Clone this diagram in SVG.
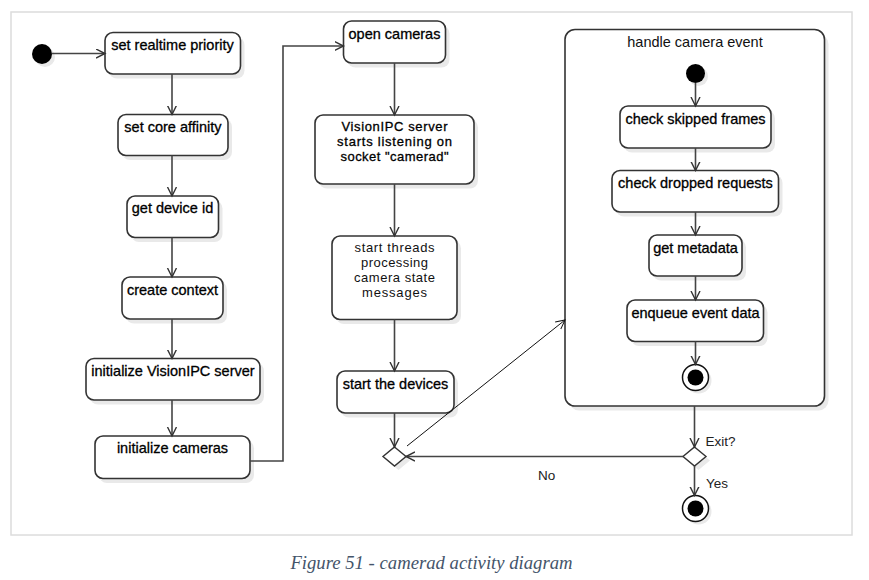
<svg xmlns="http://www.w3.org/2000/svg" width="869" height="580" viewBox="0 0 869 580">
<defs>
<marker id="arr" markerUnits="userSpaceOnUse" markerWidth="12" markerHeight="12" refX="9" refY="5" orient="auto">
<path d="M0,0.5 L9,5 L0,9.5" fill="none" stroke="#333" stroke-width="1.4"/>
</marker>
<marker id="arrt" markerUnits="userSpaceOnUse" markerWidth="12" markerHeight="12" refX="9" refY="5" orient="auto">
<path d="M0,0.5 L9,5 L0,9.5" fill="none" stroke="#111" stroke-width="1"/>
</marker>
</defs>
<style>
.box{fill:#fff;stroke:#333;stroke-width:1.6}
.sh{fill:#e9e9e9;stroke:none}
.t{font-family:"Liberation Sans",Arial,sans-serif;font-size:14.5px;fill:#000;text-anchor:middle;stroke:#000;stroke-width:0.3}
.tm{font-family:"Liberation Sans",Arial,sans-serif;font-size:13px;fill:#000;text-anchor:middle;stroke:#000;stroke-width:0.3}
.tml{font-family:"Liberation Sans",Arial,sans-serif;font-size:13px;fill:#111;text-anchor:middle}
.tl{font-family:"Liberation Sans",Arial,sans-serif;font-size:14.5px;fill:#111;text-anchor:middle}
.lbl{font-family:"Liberation Sans",Arial,sans-serif;font-size:13.5px;fill:#222}
.c{fill:none;stroke:#444;stroke-width:1.6}
.ct{fill:none;stroke:#111;stroke-width:1}
.cap{font-family:"Liberation Serif","Times New Roman",serif;font-style:italic;font-size:18.7px;fill:#44546A;text-anchor:middle}
</style>
<rect x="0" y="0" width="869" height="580" fill="#fff"/>
<rect x="11" y="12" width="841" height="523" fill="#fff" stroke="#dcdcdc" stroke-width="1.5"/>

<g id="start">
<circle cx="45" cy="57" r="10" class="sh"/>
<circle cx="42" cy="54" r="10" fill="#000"/>
</g>

<g id="set-realtime-priority">
<rect x="109" y="37" width="135.5" height="41.5" rx="8" class="sh"/>
<rect x="105" y="32.5" width="135.5" height="41.5" rx="8" class="box"/>
<text x="172.5" y="50" class="t">set realtime priority</text>
</g>
<g id="set-core-affinity">
<rect x="122" y="119" width="110" height="41" rx="8" class="sh"/>
<rect x="118" y="114.5" width="110" height="41" rx="8" class="box"/>
<text x="173" y="132" class="t">set core affinity</text>
</g>
<g id="get-device-id">
<rect x="131" y="200.5" width="91.5" height="41.5" rx="8" class="sh"/>
<rect x="127" y="196" width="91.5" height="41.5" rx="8" class="box"/>
<text x="172.5" y="213" class="t">get device id</text>
</g>
<g id="create-context">
<rect x="126" y="281.5" width="101" height="42" rx="8" class="sh"/>
<rect x="122" y="277" width="101" height="42" rx="8" class="box"/>
<text x="172.5" y="295" class="t">create context</text>
</g>
<g id="init-visionipc">
<rect x="90" y="363" width="174" height="41.5" rx="8" class="sh"/>
<rect x="86" y="358.5" width="174" height="41.5" rx="8" class="box"/>
<text x="173" y="376" class="t">initialize VisionIPC server</text>
</g>
<g id="init-cameras">
<rect x="99" y="440.5" width="155" height="42.5" rx="8" class="sh"/>
<rect x="95" y="436" width="155" height="42.5" rx="8" class="box"/>
<text x="172.5" y="453" class="t">initialize cameras</text>
</g>

<g id="open-cameras">
<rect x="347.5" y="25.5" width="102" height="42" rx="8" class="sh"/>
<rect x="343.5" y="21" width="102" height="42" rx="8" class="box"/>
<text x="394.5" y="38.5" class="t">open cameras</text>
</g>
<g id="visionipc-listening">
<rect x="319" y="119.5" width="159" height="69" rx="8" class="sh"/>
<rect x="315" y="115" width="159" height="69" rx="8" class="box"/>
<text x="394.5" y="131" class="tm" textLength="106" lengthAdjust="spacing">VisionIPC server</text>
<text x="394.5" y="146" class="tm" textLength="115" lengthAdjust="spacing">starts listening on</text>
<text x="394.5" y="161" class="tm" textLength="108" lengthAdjust="spacing">socket "camerad"</text>
</g>
<g id="start-threads">
<rect x="336" y="240.5" width="125" height="83.5" rx="8" class="sh"/>
<rect x="332" y="236" width="125" height="83.5" rx="8" class="box"/>
<text x="394.5" y="251.5" class="tml" textLength="80" lengthAdjust="spacing">start threads</text>
<text x="394.5" y="266.5" class="tml" textLength="67" lengthAdjust="spacing">processing</text>
<text x="394.5" y="281.5" class="tml" textLength="81" lengthAdjust="spacing">camera state</text>
<text x="394.5" y="296.5" class="tml" textLength="65" lengthAdjust="spacing">messages</text>
</g>
<g id="start-devices">
<rect x="341" y="375.5" width="117" height="42" rx="8" class="sh"/>
<rect x="337" y="371" width="117" height="42" rx="8" class="box"/>
<text x="395.5" y="388.5" class="t">start the devices</text>
</g>
<g id="merge">
<polygon points="398.5,451 410,460.5 398.5,470 387,460.5" class="sh"/>
<polygon points="394.5,447 406,456.5 394.5,466 383,456.5" fill="#fff" stroke="#333" stroke-width="1.4"/>
</g>

<g id="handle-camera-event">
<rect x="569" y="34" width="259.5" height="376.5" rx="10" class="sh"/>
<rect x="565" y="29.5" width="259.5" height="376.5" rx="10" class="box"/>
<text x="695" y="47" class="tl">handle camera event</text>
<g id="inner-start">
<circle cx="698.5" cy="76.5" r="9.5" class="sh"/>
<circle cx="695.5" cy="73.5" r="9.5" fill="#000"/>
</g>
<g id="check-skipped">
<rect x="624" y="110.5" width="151" height="42" rx="8" class="sh"/>
<rect x="620" y="106" width="151" height="42" rx="8" class="box"/>
<text x="695.5" y="123.5" class="t">check skipped frames</text>
</g>
<g id="check-dropped">
<rect x="616" y="175" width="166.5" height="41.5" rx="8" class="sh"/>
<rect x="612" y="170.5" width="166.5" height="41.5" rx="8" class="box"/>
<text x="695.5" y="188" class="t">check dropped requests</text>
</g>
<g id="get-metadata">
<rect x="653" y="239.5" width="93" height="41" rx="8" class="sh"/>
<rect x="649" y="235" width="93" height="41" rx="8" class="box"/>
<text x="695.5" y="253" class="t">get metadata</text>
</g>
<g id="enqueue">
<rect x="631" y="304.5" width="136.5" height="41.5" rx="8" class="sh"/>
<rect x="627" y="300" width="136.5" height="41.5" rx="8" class="box"/>
<text x="695.5" y="317.5" class="t">enqueue event data</text>
</g>
<g id="inner-end">
<circle cx="698.5" cy="380.5" r="13" class="sh"/>
<circle cx="695.5" cy="377.5" r="13" fill="#fff" stroke="#111" stroke-width="1.5"/>
<circle cx="695.5" cy="377.5" r="8" fill="#000"/>
</g>
</g>

<g id="exit-decision">
<polygon points="698.5,451 710,460.5 698.5,470 687,460.5" class="sh"/>
<polygon points="694.5,447 706,456.5 694.5,466 683,456.5" fill="#fff" stroke="#333" stroke-width="1.4"/>
</g>
<g id="end">
<circle cx="698.5" cy="511.5" r="13" class="sh"/>
<circle cx="695.5" cy="508.5" r="13" fill="#fff" stroke="#111" stroke-width="1.5"/>
<circle cx="695.5" cy="508.5" r="8" fill="#000"/>
</g>

<g id="connectors">
<line x1="52" y1="53.5" x2="105" y2="53.5" class="c" marker-end="url(#arr)"/>
<line x1="172" y1="74" x2="172" y2="114.5" class="c" marker-end="url(#arr)"/>
<line x1="172" y1="155.5" x2="172" y2="196" class="c" marker-end="url(#arr)"/>
<line x1="172" y1="237.5" x2="172" y2="277" class="c" marker-end="url(#arr)"/>
<line x1="172" y1="319" x2="172" y2="358.5" class="c" marker-end="url(#arr)"/>
<line x1="172" y1="400" x2="172" y2="436" class="c" marker-end="url(#arr)"/>
<polyline points="250,461 283,461 283,46 343.5,46" class="c" marker-end="url(#arr)"/>
<line x1="394.5" y1="63" x2="394.5" y2="115" class="c" marker-end="url(#arr)"/>
<line x1="394.5" y1="184" x2="394.5" y2="236" class="c" marker-end="url(#arr)"/>
<line x1="394.5" y1="319.5" x2="394.5" y2="371" class="c" marker-end="url(#arr)"/>
<line x1="394.5" y1="413" x2="394.5" y2="447" class="c" marker-end="url(#arr)"/>
<line x1="407" y1="446" x2="565" y2="320" class="ct" marker-end="url(#arrt)"/>
<line x1="683" y1="456.5" x2="406" y2="456.5" class="c" marker-end="url(#arr)"/>
<line x1="695.5" y1="83" x2="695.5" y2="106" class="c" marker-end="url(#arr)"/>
<line x1="695.5" y1="148" x2="695.5" y2="170.5" class="c" marker-end="url(#arr)"/>
<line x1="695.5" y1="212" x2="695.5" y2="235" class="c" marker-end="url(#arr)"/>
<line x1="695.5" y1="276" x2="695.5" y2="300" class="c" marker-end="url(#arr)"/>
<line x1="695.5" y1="341.5" x2="695.5" y2="364.5" class="c" marker-end="url(#arr)"/>
<line x1="694.5" y1="406" x2="694.5" y2="447" class="c" marker-end="url(#arr)"/>
<line x1="694.5" y1="466" x2="694.5" y2="495.5" class="c" marker-end="url(#arr)"/>
<text x="538" y="479.5" class="lbl">No</text>
<text x="705.5" y="445.5" class="lbl">Exit?</text>
<text x="706" y="488" class="lbl">Yes</text>
</g>

<text x="431.5" y="569" class="cap">Figure 51 - camerad activity diagram</text>
</svg>
